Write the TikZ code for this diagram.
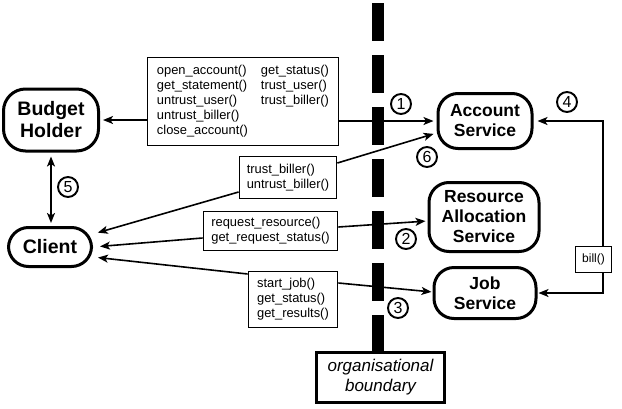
\documentclass[tikz,border=0pt]{standalone}
\usepackage{fontspec}
\setmainfont{Liberation Sans}
\usetikzlibrary{arrows.meta,calc}
\begin{document}
\begin{tikzpicture}[x=1pt,y=-1pt,
  svc/.style={draw,line width=3pt,rounded corners=20pt,align=center,inner sep=0pt,font=\fontsize{17.5}{20}\selectfont\bfseries},
  actor/.style={svc,font=\fontsize{19.5}{22}\selectfont\bfseries},
  mbox/.style={draw,line width=1.8pt,fill=white,align=left,inner sep=0pt,font=\fontsize{12.9}{15}\selectfont},
  num/.style={draw,circle,line width=1.9pt,minimum size=20pt,inner sep=0pt,font=\fontsize{16}{16}\selectfont},
  arr/.style={line width=1.6pt,-{Stealth[length=10pt,width=8pt,inset=2.5pt]}},
  darr/.style={line width=1.6pt,{Stealth[length=10pt,width=8pt,inset=2.5pt]}-{Stealth[length=10pt,width=8pt,inset=2.5pt]}}]
\useasboundingbox (0,0) rectangle (622,408);
% organisational boundary
\draw[line width=12pt, dash pattern=on 38pt off 14pt] (378,3) -- (378,353);
\node[draw,line width=3pt,fill=white,minimum width=128pt,minimum height=50pt,inner sep=0pt,align=center,font=\fontsize{17}{20}\selectfont\itshape] (ob) at (380.5,377.5) {organisational\\boundary};
% main nodes
\node[actor,minimum width=95pt,minimum height=62pt,rounded corners=22pt] (bh) at (51,120) {Budget\\Holder};
\node[actor,minimum width=83pt,minimum height=39pt] (cl) at (50,247) {Client};
\node[svc,minimum width=94pt,minimum height=55pt] (as) at (485,121) {Account\\Service};
\node[svc,minimum width=110pt,minimum height=69pt] (ras) at (484,217) {Resource\\Allocation\\Service};
\node[svc,minimum width=102pt,minimum height=51pt] (js) at (485,293) {Job\\Service};
% method boxes
\node[mbox,minimum width=191pt,minimum height=88pt] (m1) at (243,101.5) {\begin{tabular}{@{}p{104pt}@{}l@{}}open\_account() & get\_status()\\ get\_statement() & trust\_user()\\ untrust\_user() & trust\_biller()\\ untrust\_biller() & \\ close\_account() & \end{tabular}};
\node[mbox,minimum width=97pt,minimum height=42pt] (m2) at (288,177.5) {trust\_biller()\\untrust\_biller()};
\node[mbox,minimum width=134pt,minimum height=39pt] (m3) at (270.5,231) {request\_resource()\\get\_request\_status()};
\node[mbox,minimum width=89pt,minimum height=56pt] (m4) at (293,299.5) {start\_job()\\get\_status()\\get\_results()};
\node[mbox,minimum width=36pt,minimum height=26pt,font=\fontsize{12}{14}\selectfont] (bill) at (593.5,259.5) {bill()};
% connectors
\draw[arr,shorten >=3pt] (m1.west |- bh.east) -- (bh.east);
\draw[arr,shorten >=3pt] (m1.east |- as.west) -- (as.west);
\draw[darr,shorten <=4pt,shorten >=3pt] (bh.south) -- (bh.south |- cl.north);
\draw[arr,shorten >=5pt] ($(m2.west)+(0,14.5)$) -- ($(cl.east)+(0,-13)$);
\draw[arr,shorten >=3pt] ($(m2.east)+(0,-14.5)$) -- ($(as.west)+(0,12)$);
\draw[arr,shorten >=7pt] ($(m3.west)+(0,7)$) -- (cl.east);
\draw[arr,shorten >=2pt] ($(m3.east)+(0,-4)$) -- ($(ras.west)+(0,4)$);
\draw[arr,shorten >=5pt] ($(m4.west)+(0,-25.5)$) -- ($(cl.east)+(0,10)$);
\draw[arr,shorten >=1pt] ($(m4.east)+(0,-16.5)$) -- ($(js.west)+(0,-1)$);
\draw[arr,shorten >=4pt] ([xshift=9.5pt]bill.north) |- (as.east);
\draw[arr,shorten >=1pt] ([xshift=9.5pt]bill.south) |- (js.east);
% numbers
\node[num] (n1) at (401,104) {1};
\node[num] (n2) at (406,239) {2};
\node[num] (n3) at (398,308) {3};
\node[num] (n4) at (567,102) {4};
\node[num] (n5) at (68,187) {5};
\node[num] (n6) at (427,157) {6};
\end{tikzpicture}
\end{document}
